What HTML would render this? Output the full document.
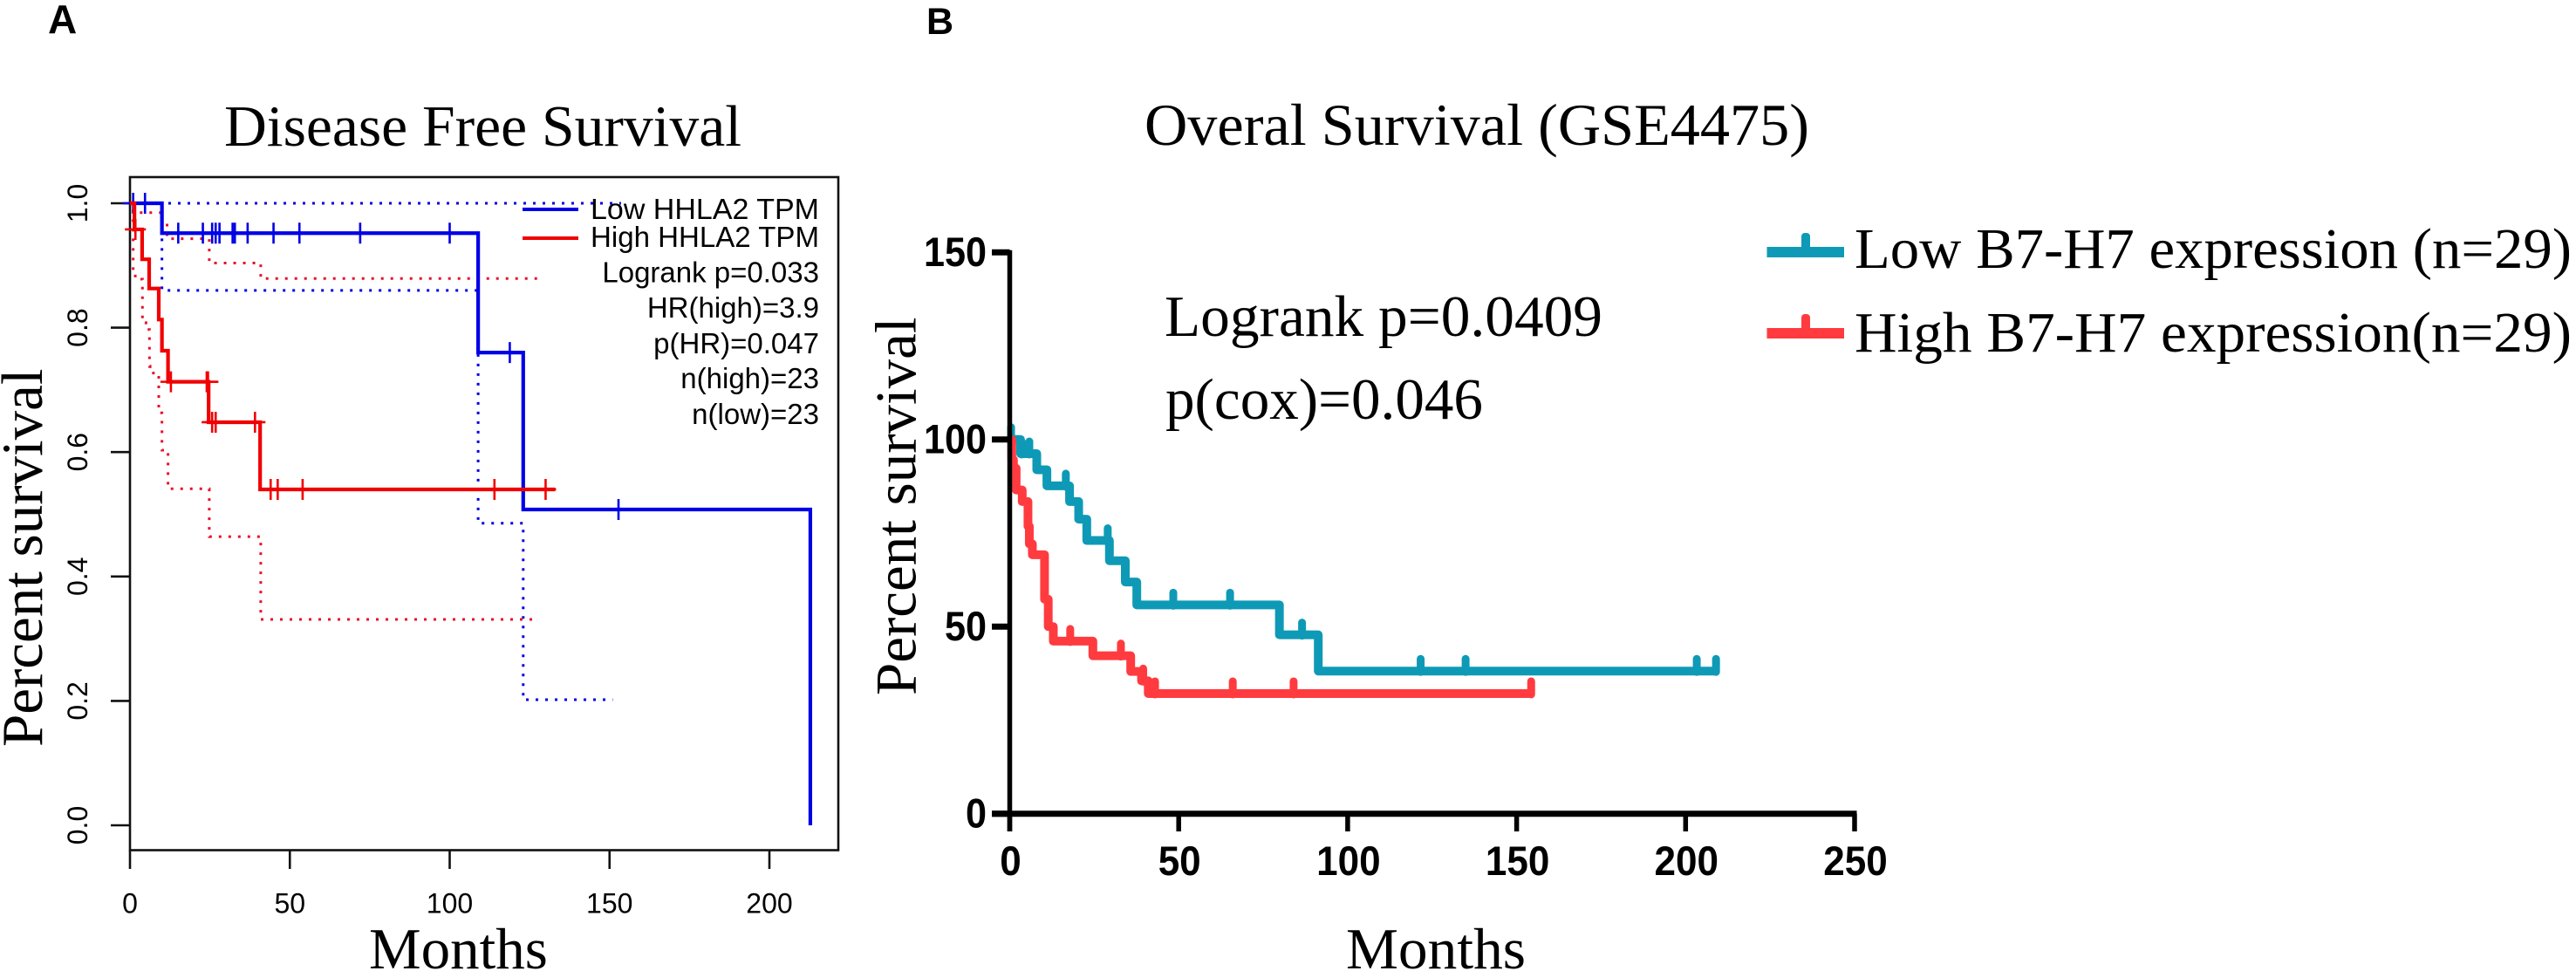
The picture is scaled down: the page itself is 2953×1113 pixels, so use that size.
<!DOCTYPE html>
<html lang="en">
<head>
<meta charset="utf-8">
<title>Survival curves</title>
<style>
html,body{margin:0;padding:0;background:#fff;}
svg{display:block;}
.serif{font-family:"Liberation Serif",serif;fill:#000;}
.sans{font-family:"Liberation Sans",sans-serif;fill:#000;}
</style>
</head>
<body>
<svg id="figure" width="2953" height="1113" viewBox="0 0 2953 1113" xmlns="http://www.w3.org/2000/svg">
  <rect x="0" y="0" width="2953" height="1113" fill="#fff"/>

  <text class="sans" x="55" y="38" font-size="46" font-weight="700">A</text>
  <text class="sans" x="1062" y="39" font-size="43" font-weight="700">B</text>

  <!-- Panel A static text -->
  <text class="serif" x="257" y="167" font-size="67" textLength="593" lengthAdjust="spacingAndGlyphs">Disease Free Survival</text>
  <text class="serif" font-size="67" transform="translate(48,856) rotate(-90)">Percent survival</text>
  <text class="serif" x="423" y="1110" font-size="67">Months</text>
  <rect x="149" y="203" width="812" height="771.5" fill="none" stroke="#111" stroke-width="2.6"/>

  <g id="panelA"></g>

  <g>
    <line x1="599" x2="663" y1="240" y2="240" stroke="#0000e6" stroke-width="4"/>
    <line x1="599" x2="663" y1="273" y2="273" stroke="#f00000" stroke-width="4"/>
    <text class="sans" x="677" y="251" font-size="33" textLength="262" lengthAdjust="spacingAndGlyphs">Low HHLA2 TPM</text>
    <text class="sans" x="677" y="283" font-size="33" textLength="262" lengthAdjust="spacingAndGlyphs">High HHLA2 TPM</text>
    <text class="sans" x="939" y="323.5" font-size="33" text-anchor="end">Logrank p=0.033</text>
    <text class="sans" x="939" y="364" font-size="33" text-anchor="end">HR(high)=3.9</text>
    <text class="sans" x="939" y="405" font-size="33" text-anchor="end">p(HR)=0.047</text>
    <text class="sans" x="939" y="445" font-size="33" text-anchor="end">n(high)=23</text>
    <text class="sans" x="939" y="486" font-size="33" text-anchor="end">n(low)=23</text>
  </g>

  <!-- Panel B static text -->
  <text class="serif" x="1312" y="166" font-size="68" textLength="762" lengthAdjust="spacingAndGlyphs">Overal Survival (GSE4475)</text>
  <text class="serif" font-size="67" transform="translate(1049.5,797) rotate(-90)">Percent survival</text>
  <text class="serif" x="1543" y="1110" font-size="67" textLength="206" lengthAdjust="spacingAndGlyphs">Months</text>
  <text class="serif" x="1335" y="385" font-size="67" textLength="502" lengthAdjust="spacingAndGlyphs">Logrank p=0.0409</text>
  <text class="serif" x="1336" y="480" font-size="67" textLength="364" lengthAdjust="spacingAndGlyphs">p(cox)=0.046</text>

  <g id="panelB"></g>

  <g>
    <rect x="2025.5" y="283" width="88.5" height="12" fill="#0e9ab6"/>
    <rect x="2065" y="267" width="10" height="20" rx="4" fill="#0e9ab6"/>
    <text class="serif" x="2126" y="307" font-size="66" textLength="822" lengthAdjust="spacingAndGlyphs">Low B7-H7 expression (n=29)</text>
    <rect x="2025.5" y="376" width="88.5" height="12" fill="#ff3b40"/>
    <rect x="2065" y="360" width="10" height="20" rx="4" fill="#ff3b40"/>
    <text class="serif" x="2126" y="403" font-size="66" textLength="822" lengthAdjust="spacingAndGlyphs">High B7-H7 expression(n=29)</text>
  </g>
</svg>

<script>
// ===== Panel A data =====
const aXTicks = [0, 50, 100, 150, 200];
const aYTicks = [0, 0.2, 0.4, 0.6, 0.8, 1];
const aYTickLabels = ["0.0", "0.2", "0.4", "0.6", "0.8", "1.0"];

const aLowTimes = [0, 10, 108.9, 123, 212.8];
const aLowSurvival = [1, 0.952, 0.76, 0.5077, 0];
const aLowCensored = [1, 4.7, 15.1, 22.8, 25.7, 26.8, 28, 32.1, 32.8, 36.8, 44.9, 53, 72, 100, 118.8, 152.8];
const aLowUpperTimes = [0, 153.6];
const aLowUpperSurvival = [1, 1];
const aLowLowerTimes = [0, 10, 108.9, 123, 151];
const aLowLowerSurvival = [1, 0.86, 0.4856, 0.202, 0.202];

const aHighTimes = [0, 1.4, 3.8, 6, 9, 10, 11.9, 24.6, 40.7, 133];
const aHighSurvival = [1, 0.958, 0.91, 0.863, 0.813, 0.763, 0.713, 0.648, 0.54, 0.54];
const aHighCensored = [1.7, 12.8, 24, 24.4, 25.7, 26.8, 39.1, 44, 46.2, 54, 114, 130];
const aHighUpperTimes = [0, 1.5, 10, 11.6, 24.8, 40.9, 129.5];
const aHighUpperSurvival = [1, 0.985, 0.972, 0.943, 0.904, 0.879, 0.879];
const aHighLowerTimes = [0, 1, 2.7, 3.9, 5, 6.1, 6.3, 9, 10, 11.9, 24.8, 40.9, 127.7];
const aHighLowerSurvival = [1, 0.883, 0.878, 0.808, 0.797, 0.738, 0.727, 0.663, 0.603, 0.541, 0.464, 0.331, 0.331];

// ===== Panel B data =====
const bXTicks = [0, 50, 100, 150, 200, 250];
const bYTicks = [0, 50, 100, 150];

const bLowTimes = [0, 3.2, 8, 11, 17.7, 20.4, 22.8, 29.5, 34.2, 37.6, 79.8, 91.3, 209];
const bLowSurvival = [100, 96.2, 91.9, 87.6, 83.4, 78.7, 73, 67.6, 61.9, 55.8, 47.8, 38.1, 38.1];
const bLowCensored = [0.4, 3.5, 5.8, 16.6, 29, 48.4, 65.2, 86.5, 121.6, 134.9, 203.3, 209];

const bHighTimes = [0, 0.6, 1.1, 1.9, 3.7, 5.4, 5.8, 6.7, 10.3, 11.4, 12.9, 24.6, 35.8, 39, 41, 154.3];
const bHighSurvival = [100, 94.6, 92.3, 86.5, 83.4, 76.8, 72.1, 69.2, 57.3, 50, 46.1, 42.2, 38, 35.5, 32.1, 32.1];
const bHighCensored = [17.9, 32.9, 39.5, 43, 66, 84, 154.3];

// ===== Axis functions =====
const ax = t => 149 + 3.665 * t;
const ay = v => 946 - 713 * v;
const bx = t => 1157.5 + 3.874 * t;
const by = v => 932.7 - 4.29 * v;

const NS = "http://www.w3.org/2000/svg";
function make(parent, tag, attrs, text) {
  const el = document.createElementNS(NS, tag);
  for (const k in attrs) el.setAttribute(k, attrs[k]);
  if (text !== undefined) el.textContent = text;
  parent.appendChild(el);
  return el;
}
function stepPath(times, values, fx, fy) {
  let d = "M" + fx(times[0]) + " " + fy(values[0]);
  for (let i = 1; i < times.length; i++) {
    d += " H" + fx(times[i]) + " V" + fy(values[i]);
  }
  return d;
}
function levelAt(times, values, t) {
  let v = values[0];
  for (let i = 0; i < times.length; i++) {
    if (times[i] <= t) v = values[i];
  }
  return v;
}

const gA = document.getElementById("panelA");
const gB = document.getElementById("panelB");

// ----- Panel A axes -----
aXTicks.forEach(function (t) {
  const tick = make(gA, "line", {x1: ax(t), x2: ax(t), y1: 974.5, y2: 996, stroke: "#111", "stroke-width": 2.6});
  
  
  const label = make(gA, "text", {x: ax(t), y: 1046.5, "font-size": 32, "text-anchor": "middle", class: "sans"}, String(t));
  
  
});
aYTicks.forEach(function (v, i) {
  const tick = make(gA, "line", {x1: 127, x2: 149, y1: ay(v), y2: ay(v), stroke: "#111", "stroke-width": 2.6});
  
  
  const label = make(gA, "text", {"font-size": 32, "text-anchor": "middle", class: "sans", transform: "translate(100," + ay(v) + ") rotate(-90)"}, aYTickLabels[i]);
  
  
});

// ----- Panel A series -----
function aCI(times, values, color, name) {
  const p = make(gA, "path", {d: stepPath(times, values, ax, ay), fill: "none", stroke: color, "stroke-width": 3, "stroke-dasharray": "3 8"});
  
  
}
function aCurve(times, values, color, name) {
  const p = make(gA, "path", {d: stepPath(times, values, ax, ay), fill: "none", stroke: color, "stroke-width": 4.2});
  
  
}
function aPlus(times, values, censored, color, name) {
  censored.forEach(function (t) {
    const x = ax(t), y = ay(levelAt(times, values, t));
    const p = make(gA, "path", {d: "M" + (x - 12) + " " + y + " H" + (x + 12) + " M" + x + " " + (y - 12) + " V" + (y + 12), fill: "none", stroke: color, "stroke-width": 2.6});
    
    
  });
}
aCI(aLowUpperTimes, aLowUpperSurvival, "#0000e6", "low-hhla2-upper-ci");
aCI(aLowLowerTimes, aLowLowerSurvival, "#0000e6", "low-hhla2-lower-ci");
aCI(aHighUpperTimes, aHighUpperSurvival, "#e8102a", "high-hhla2-upper-ci");
aCI(aHighLowerTimes, aHighLowerSurvival, "#e8102a", "high-hhla2-lower-ci");
aCurve(aLowTimes, aLowSurvival, "#0000e6", "low-hhla2-curve");
aPlus(aLowTimes, aLowSurvival, aLowCensored, "#0000e6", "low-hhla2-censor-mark");
aCurve(aHighTimes, aHighSurvival, "#f00000", "high-hhla2-curve");
aPlus(aHighTimes, aHighSurvival, aHighCensored, "#f00000", "high-hhla2-censor-mark");

// ----- Panel B series (under the axes) -----
function bCurve(times, values, censored, color, name) {
  const p = make(gB, "path", {d: stepPath(times, values, bx, by), fill: "none", stroke: color, "stroke-width": 10, "stroke-linejoin": "round", "stroke-linecap": "butt"});
  
  
  censored.forEach(function (t) {
    const x = bx(t), y = by(levelAt(times, values, t));
    const m = make(gB, "line", {x1: x, x2: x, y1: y + 1, y2: y - 14, stroke: color, "stroke-width": 9, "stroke-linecap": "round"});
    
    
  });
}
bCurve(bLowTimes, bLowSurvival, bLowCensored, "#0e9ab6", "low-b7h7");
bCurve(bHighTimes, bHighSurvival, bHighCensored, "#ff3b40", "high-b7h7");

// ----- Panel B axes -----
const bYAxis = make(gB, "line", {x1: bx(0), x2: bx(0), y1: by(150) - 2.5, y2: 953, stroke: "#000", "stroke-width": 5.5});


const bXAxis = make(gB, "line", {x1: 1137, x2: bx(250) + 2.5, y1: by(0), y2: by(0), stroke: "#000", "stroke-width": 7});


bXTicks.forEach(function (t) {
  const tick = make(gB, "line", {x1: bx(t), x2: bx(t), y1: by(0), y2: 953, stroke: "#000", "stroke-width": 5.5});
  
  
  const s = String(t);
  const label = make(gB, "text", {x: bx(t) + 1, y: 1003, "font-size": 47, "font-weight": 700, "text-anchor": "middle", class: "sans", textLength: s.length * 24.5, lengthAdjust: "spacingAndGlyphs"}, s);
  
  
});
bYTicks.forEach(function (v) {
  const tick = make(gB, "line", {x1: 1137, x2: bx(0), y1: by(v), y2: by(v), stroke: "#000", "stroke-width": 7});
  
  
  const s = String(v);
  const label = make(gB, "text", {x: 1131, y: by(v) + 16, "font-size": 47, "font-weight": 700, "text-anchor": "end", class: "sans", textLength: s.length * 24, lengthAdjust: "spacingAndGlyphs"}, s);
  
  
});
</script>
</body>
</html>
